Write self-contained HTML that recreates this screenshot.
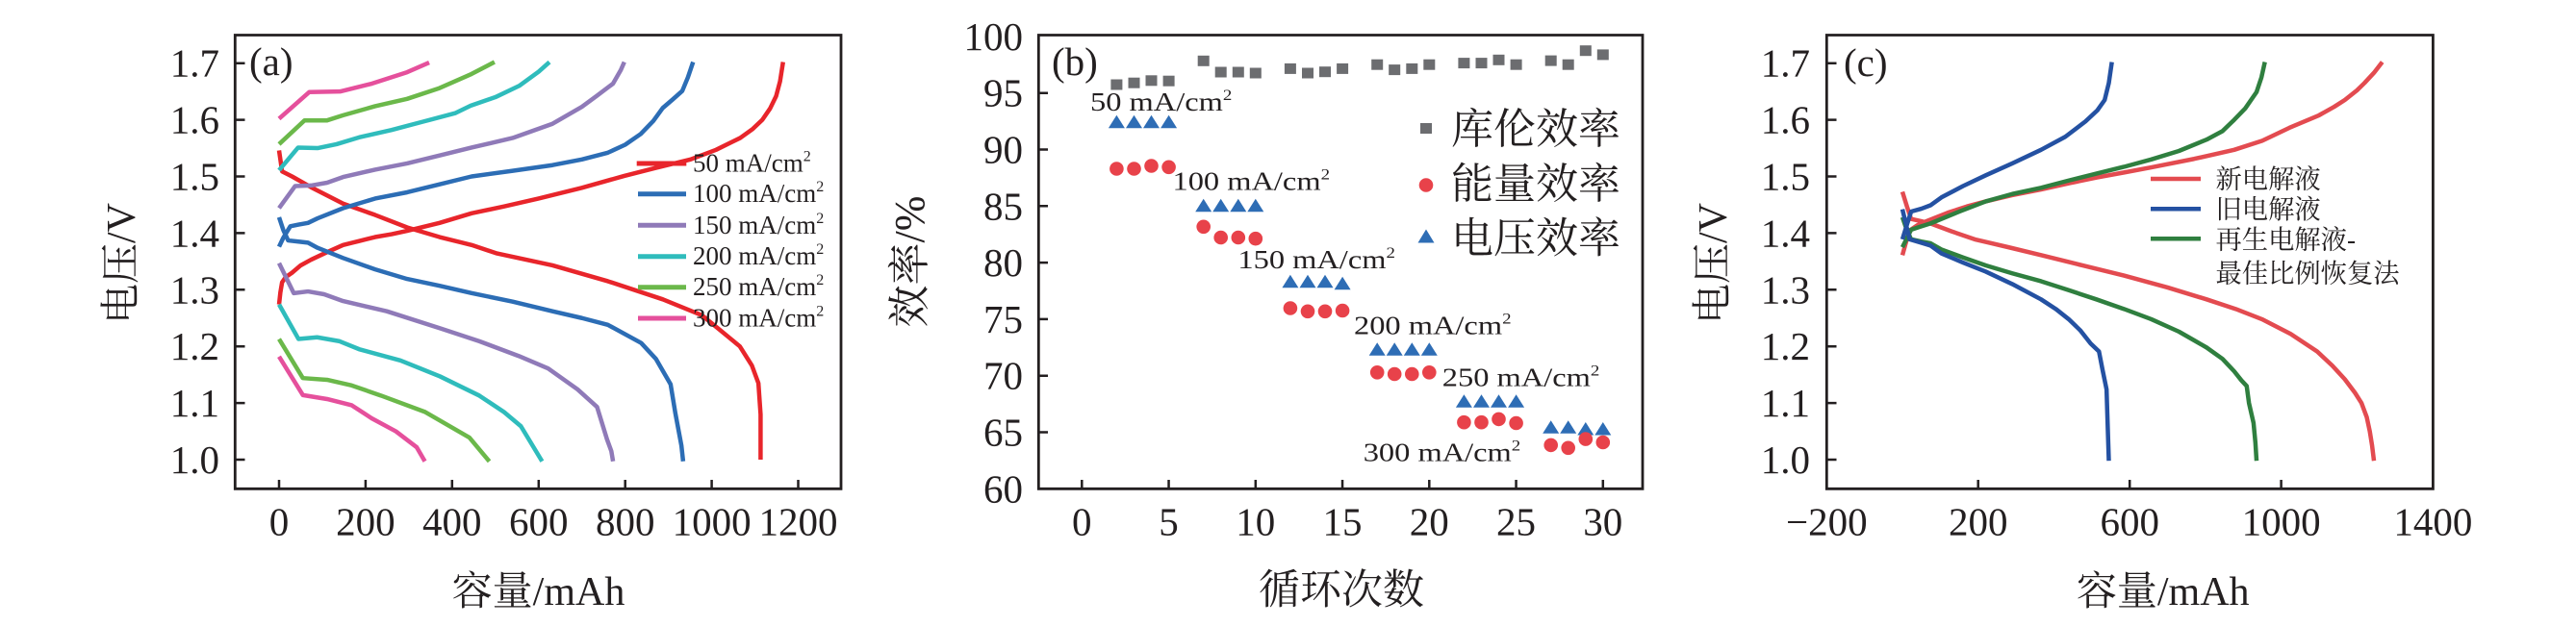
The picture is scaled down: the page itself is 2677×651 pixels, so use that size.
<!DOCTYPE html>
<html>
<head>
<meta charset="utf-8">
<style>
html,body{margin:0;padding:0;background:#fff;}
svg{display:block;}
text{font-family:"Liberation Serif","Noto Serif CJK SC",serif;fill:#231f20;}
.ln{fill:none;stroke-width:4.5;stroke-linejoin:round;stroke-linecap:butt;}
</style>
</head>
<body>
<svg width="2677" height="651" viewBox="0 0 2677 651" xmlns="http://www.w3.org/2000/svg">
<rect x="0" y="0" width="2677" height="651" fill="#fff"/>

<!-- ================= PANEL A ================= -->
<g transform="matrix(0.4496,0,0,-0.589,290,1067)">
  <polyline class="ln" vector-effect="non-scaling-stroke" stroke="#e8252b" points="0,1274 3,1295 7,1313 15,1322 30,1330 50,1343 74,1353 110,1366 148,1379 185,1386 222,1393 260,1398 296,1404 371,1418 445,1435 520,1447 600,1461 700,1480 798,1501 870,1515 951,1530 1010,1547 1066,1568 1095,1584 1117,1600 1135,1620 1149,1642 1158,1668 1165,1702"/>
  <polyline class="ln" vector-effect="non-scaling-stroke" stroke="#e8252b" points="0,1546 7,1509 30,1500 74,1481 148,1452 222,1432 296,1410 371,1393 445,1379 504,1364 632,1343 760,1315 887,1283 977,1255 1019,1229 1065,1200 1093,1166 1108,1135 1113,1080 1113,1000"/>
  <polyline class="ln" vector-effect="non-scaling-stroke" stroke="#2c6db5" points="0,1376 10,1392 26,1412 45,1415 67,1418 89,1426 148,1444 222,1461 296,1472 371,1486 445,1500 540,1510 632,1520 700,1530 760,1542 800,1556 836,1575 865,1598 887,1621 910,1636 932,1651 945,1675 957,1702"/>
  <polyline class="ln" vector-effect="non-scaling-stroke" stroke="#2c6db5" points="0,1428 10,1405 21,1387 45,1385 67,1383 89,1374 148,1356 222,1336 296,1319 371,1307 445,1294 540,1279 632,1262 700,1250 760,1238 837,1206 871,1178 905,1133 916,1082 930,1025 934,997"/>
  <polyline class="ln" vector-effect="non-scaling-stroke" stroke="#8f7ab8" points="0,1444 37,1483 74,1484 111,1489 148,1499 222,1512 296,1523 371,1537 445,1551 540,1568 632,1593 700,1623 734,1642 772,1664 790,1688 798,1702"/>
  <polyline class="ln" vector-effect="non-scaling-stroke" stroke="#8f7ab8" points="0,1347 34,1294 67,1297 104,1292 148,1280 249,1262 372,1232 463,1209 554,1183 622,1161 690,1124 735,1093 758,1036 768,1015 772,997"/>
  <polyline class="ln" vector-effect="non-scaling-stroke" stroke="#2fbcbc" points="0,1511 44,1551 89,1550 133,1557 185,1569 260,1582 334,1597 408,1612 443,1625 500,1640 555,1660 600,1685 625,1702"/>
  <polyline class="ln" vector-effect="non-scaling-stroke" stroke="#2fbcbc" points="0,1274 45,1213 88,1216 140,1209 185,1195 281,1175 372,1147 463,1113 520,1084 559,1059 608,997"/>
  <polyline class="ln" vector-effect="non-scaling-stroke" stroke="#6bb84a" points="0,1557 59,1599 111,1599 148,1608 222,1624 296,1637 371,1656 445,1681 498,1702"/>
  <polyline class="ln" vector-effect="non-scaling-stroke" stroke="#6bb84a" points="0,1213 55,1144 111,1141 168,1131 236,1113 338,1084 440,1039 486,997"/>
  <polyline class="ln" vector-effect="non-scaling-stroke" stroke="#e5509c" points="0,1602 70,1649 141,1650 215,1664 296,1684 347,1701"/>
  <polyline class="ln" vector-effect="non-scaling-stroke" stroke="#e5509c" points="0,1182 55,1114 111,1107 168,1096 214,1073 270,1050 318,1022 337,997"/>
</g>
<path d="M244.3,36.5 H874 V508.3 H244.3 Z" fill="none" stroke="#231f20" stroke-width="2.8"/>
<g stroke="#231f20" stroke-width="2.5">
  <path d="M290,508.3V499 M379.9,508.3V499 M469.8,508.3V499 M559.8,508.3V499 M649.7,508.3V499 M739.6,508.3V499 M829.5,508.3V499"/>
  <path d="M244.3,478H254.5 M244.3,419.1H254.5 M244.3,360.2H254.5 M244.3,301.3H254.5 M244.3,242.4H254.5 M244.3,183.5H254.5 M244.3,124.6H254.5 M244.3,65.7H254.5"/>
</g>
<g font-size="41" text-anchor="end">
  <text x="228" y="492">1.0</text>
  <text x="228" y="433.1">1.1</text>
  <text x="228" y="374.2">1.2</text>
  <text x="228" y="315.3">1.3</text>
  <text x="228" y="256.4">1.4</text>
  <text x="228" y="197.5">1.5</text>
  <text x="228" y="138.6">1.6</text>
  <text x="228" y="79.7">1.7</text>
</g>
<g font-size="41" text-anchor="middle">
  <text x="290" y="556.5">0</text>
  <text x="379.9" y="556.5">200</text>
  <text x="469.8" y="556.5">400</text>
  <text x="559.8" y="556.5">600</text>
  <text x="649.7" y="556.5">800</text>
  <text x="739.6" y="556.5">1000</text>
  <text x="829.5" y="556.5">1200</text>
</g>
<text x="259" y="78" font-size="41">(a)</text>
<text transform="translate(140,274) rotate(-90)" text-anchor="middle" font-size="42">电压/V</text>
<text x="559.5" y="629" text-anchor="middle" font-size="42">容量/mAh</text>
<g stroke-width="5">
  <line x1="661.7" y1="170" x2="713.3" y2="170" stroke="#e8252b"/>
  <line x1="663" y1="201.7" x2="713" y2="201.7" stroke="#2c6db5"/>
  <line x1="663" y1="234.3" x2="713" y2="234.3" stroke="#8f7ab8"/>
  <line x1="663" y1="266.7" x2="713" y2="266.7" stroke="#2fbcbc"/>
  <line x1="663" y1="298.7" x2="713" y2="298.7" stroke="#6bb84a"/>
  <line x1="663" y1="331" x2="713" y2="331" stroke="#e5509c"/>
</g>
<g font-size="27">
  <text x="720" y="178.5">50 mA/cm<tspan font-size="16" dy="-11">2</tspan></text>
  <text x="720" y="210.2">100 mA/cm<tspan font-size="16" dy="-11">2</tspan></text>
  <text x="720" y="242.8">150 mA/cm<tspan font-size="16" dy="-11">2</tspan></text>
  <text x="720" y="275.2">200 mA/cm<tspan font-size="16" dy="-11">2</tspan></text>
  <text x="720" y="307.2">250 mA/cm<tspan font-size="16" dy="-11">2</tspan></text>
  <text x="720" y="339.5">300 mA/cm<tspan font-size="16" dy="-11">2</tspan></text>
</g>

<!-- ================= PANEL B ================= -->
<path d="M1079.3,36.5 H1707 V508.3 H1079.3 Z" fill="none" stroke="#231f20" stroke-width="2.8"/>
<g stroke="#231f20" stroke-width="2.5">
  <path d="M1124.3,508.3V499 M1214.55,508.3V499 M1304.8,508.3V499 M1395.05,508.3V499 M1485.3,508.3V499 M1575.55,508.3V499 M1665.8,508.3V499"/>
  <path d="M1079.3,449.5H1089 M1079.3,390.7H1089 M1079.3,331.9H1089 M1079.3,273.1H1089 M1079.3,214.3H1089 M1079.3,155.5H1089 M1079.3,96.7H1089"/>
</g>
<g font-size="41" text-anchor="end">
  <text x="1063" y="522.3">60</text>
  <text x="1063" y="463.5">65</text>
  <text x="1063" y="404.7">70</text>
  <text x="1063" y="345.9">75</text>
  <text x="1063" y="287.1">80</text>
  <text x="1063" y="228.3">85</text>
  <text x="1063" y="169.5">90</text>
  <text x="1063" y="110.7">95</text>
  <text x="1063" y="51.9">100</text>
</g>
<g font-size="41" text-anchor="middle">
  <text x="1124.3" y="556.5">0</text>
  <text x="1214.55" y="556.5">5</text>
  <text x="1304.8" y="556.5">10</text>
  <text x="1395.05" y="556.5">15</text>
  <text x="1485.3" y="556.5">20</text>
  <text x="1575.55" y="556.5">25</text>
  <text x="1665.8" y="556.5">30</text>
</g>
<text x="1093" y="78" font-size="41">(b)</text>
<text transform="translate(960,272) rotate(-90)" text-anchor="middle" font-size="44">效率/%</text>
<text x="1394" y="628" text-anchor="middle" font-size="43">循环次数</text>

<g fill="#6c6d70">
  <rect x="1154.4" y="82.5" width="12" height="11"/>
  <rect x="1172.5" y="80.7" width="12" height="11"/>
  <rect x="1190.5" y="78.3" width="12" height="11"/>
  <rect x="1208.6" y="78.7" width="12" height="11"/>
  <rect x="1244.7" y="57.8" width="12" height="11"/>
  <rect x="1262.7" y="69.5" width="12" height="11"/>
  <rect x="1280.8" y="69.5" width="12" height="11"/>
  <rect x="1298.8" y="70.5" width="12" height="11"/>
  <rect x="1334.9" y="65.9" width="12" height="11"/>
  <rect x="1353.0" y="70.5" width="12" height="11"/>
  <rect x="1371.0" y="69.2" width="12" height="11"/>
  <rect x="1389.1" y="65.9" width="12" height="11"/>
  <rect x="1425.2" y="61.7" width="12" height="11"/>
  <rect x="1443.2" y="67.1" width="12" height="11"/>
  <rect x="1461.3" y="65.9" width="12" height="11"/>
  <rect x="1479.3" y="61.7" width="12" height="11"/>
  <rect x="1515.4" y="60.1" width="12" height="11"/>
  <rect x="1533.5" y="60.1" width="12" height="11"/>
  <rect x="1551.5" y="56.8" width="12" height="11"/>
  <rect x="1569.6" y="61.7" width="12" height="11"/>
  <rect x="1605.7" y="57.6" width="12" height="11"/>
  <rect x="1623.7" y="61.7" width="12" height="11"/>
  <rect x="1641.8" y="47.2" width="12" height="11"/>
  <rect x="1659.8" y="51.4" width="12" height="11"/>
</g>
<g fill="#2e6db5">
  <path d="M1160.4,119.7 l8.5,13.5 h-17 z M1178.5,119.7 l8.5,13.5 h-17 z M1196.5,119.7 l8.5,13.5 h-17 z M1214.6,119.7 l8.5,13.5 h-17 z"/>
  <path d="M1250.7,206.8 l8.5,13.5 h-17 z M1268.7,206.8 l8.5,13.5 h-17 z M1286.8,206.8 l8.5,13.5 h-17 z M1304.8,206.8 l8.5,13.5 h-17 z"/>
  <path d="M1340.9,285.7 l8.5,13.5 h-17 z M1359.0,285.7 l8.5,13.5 h-17 z M1377.0,285.7 l8.5,13.5 h-17 z M1395.1,287.7 l8.5,13.5 h-17 z"/>
  <path d="M1431.2,356.2 l8.5,13.5 h-17 z M1449.2,356.2 l8.5,13.5 h-17 z M1467.3,356.2 l8.5,13.5 h-17 z M1485.3,356.2 l8.5,13.5 h-17 z"/>
  <path d="M1521.4,410.2 l8.5,13.5 h-17 z M1539.5,410.2 l8.5,13.5 h-17 z M1557.5,410.2 l8.5,13.5 h-17 z M1575.6,410.2 l8.5,13.5 h-17 z"/>
  <path d="M1611.7,437.2 l8.5,13.5 h-17 z M1629.7,437.2 l8.5,13.5 h-17 z M1647.8,439 l8.5,13.5 h-17 z M1665.8,439 l8.5,13.5 h-17 z"/>
</g>
<g fill="#e8424a">
  <circle cx="1160.4" cy="175.5" r="7.3"/>
  <circle cx="1178.5" cy="175.5" r="7.3"/>
  <circle cx="1196.5" cy="172.5" r="7.3"/>
  <circle cx="1214.6" cy="173.8" r="7.3"/>
  <circle cx="1250.7" cy="235.8" r="7.3"/>
  <circle cx="1268.7" cy="247" r="7.3"/>
  <circle cx="1286.8" cy="247" r="7.3"/>
  <circle cx="1304.8" cy="248.2" r="7.3"/>
  <circle cx="1340.9" cy="320.5" r="7.3"/>
  <circle cx="1359.0" cy="323.8" r="7.3"/>
  <circle cx="1377.0" cy="323.8" r="7.3"/>
  <circle cx="1395.1" cy="323" r="7.3"/>
  <circle cx="1431.2" cy="387.3" r="7.3"/>
  <circle cx="1449.2" cy="389" r="7.3"/>
  <circle cx="1467.3" cy="389" r="7.3"/>
  <circle cx="1485.3" cy="387.3" r="7.3"/>
  <circle cx="1521.4" cy="439.2" r="7.3"/>
  <circle cx="1539.5" cy="439.2" r="7.3"/>
  <circle cx="1557.5" cy="435.9" r="7.3"/>
  <circle cx="1575.6" cy="440" r="7.3"/>
  <circle cx="1611.7" cy="462.9" r="7.3"/>
  <circle cx="1629.7" cy="465.8" r="7.3"/>
  <circle cx="1647.8" cy="456.6" r="7.3"/>
  <circle cx="1665.8" cy="460" r="7.3"/>
</g>
<g font-size="27.5">
  <text transform="translate(1133,115) scale(1.18,1)">50 mA/cm<tspan font-size="16" dy="-11">2</tspan></text>
  <text transform="translate(1218.5,197.5) scale(1.18,1)">100 mA/cm<tspan font-size="16" dy="-11">2</tspan></text>
  <text transform="translate(1286.4,279) scale(1.18,1)">150 mA/cm<tspan font-size="16" dy="-11">2</tspan></text>
  <text transform="translate(1407,347.3) scale(1.18,1)">200 mA/cm<tspan font-size="16" dy="-11">2</tspan></text>
  <text transform="translate(1498.8,401.3) scale(1.18,1)">250 mA/cm<tspan font-size="16" dy="-11">2</tspan></text>
  <text transform="translate(1416.7,479.3) scale(1.18,1)">300 mA/cm<tspan font-size="16" dy="-11">2</tspan></text>
</g>
<rect x="1476" y="128" width="12" height="11" fill="#6c6d70"/>
<circle cx="1482" cy="192.5" r="7.3" fill="#e8424a"/>
<path d="M1482,238.5 l8.5,14 h-17 z" fill="#2e6db5"/>
<g font-size="44">
  <text x="1508" y="149">库伦效率</text>
  <text x="1508" y="206">能量效率</text>
  <text x="1508" y="262.5">电压效率</text>
</g>

<!-- ================= PANEL C ================= -->
<g transform="matrix(0.3936,0,0,-0.589,1977,1067)">
  <polyline class="ln" vector-effect="non-scaling-stroke" stroke="#e34b50" points="0,1473 12,1447 23,1425 50,1421 74,1417 130,1403 191,1389 280,1375 366,1361 475,1343 585,1325 700,1304 803,1283 880,1266 949,1248 1025,1222 1095,1191 1135,1166 1168,1142 1195,1118 1212,1100 1226,1075 1234,1050 1240,1025 1245,998"/>
  <polyline class="ln" vector-effect="non-scaling-stroke" stroke="#e34b50" points="0,1361 10,1385 20,1405 40,1414 60,1420 120,1436 170,1447 220,1456 290,1467 366,1477 440,1488 512,1498 585,1507 657,1516 770,1531 876,1547 950,1563 1022,1586 1100,1608 1140,1623 1168,1635 1200,1652 1220,1665 1245,1683 1267,1702"/>
  <polyline class="ln" vector-effect="non-scaling-stroke" stroke="#2f7f3f" points="0,1375 23,1406 50,1412 74,1417 150,1438 220,1456 290,1469 366,1480 440,1493 512,1505 585,1517 657,1530 730,1545 803,1565 845,1580 876,1600 905,1620 935,1649 948,1675 957,1702"/>
  <polyline class="ln" vector-effect="non-scaling-stroke" stroke="#2f7f3f" points="0,1428 12,1405 23,1389 50,1385 74,1382 103,1371 160,1357 220,1343 290,1329 366,1315 440,1299 512,1283 585,1266 657,1248 730,1226 803,1198 845,1178 876,1156 895,1140 909,1130 915,1100 927,1065 932,1030 935,998"/>
  <polyline class="ln" vector-effect="non-scaling-stroke" stroke="#2451a2" points="0,1389 12,1415 23,1438 50,1443 74,1449 103,1463 160,1483 220,1502 290,1523 366,1547 430,1570 483,1597 515,1617 534,1635 545,1665 553,1702"/>
  <polyline class="ln" vector-effect="non-scaling-stroke" stroke="#2451a2" points="0,1442 10,1414 19,1389 50,1383 74,1378 103,1364 160,1348 220,1332 290,1310 366,1283 405,1266 439,1248 470,1228 497,1205 519,1191 528,1160 539,1124 542,1060 545,998"/>
</g>
<path d="M1898.3,36.5 H2528.4 V508.3 H1898.3 Z" fill="none" stroke="#231f20" stroke-width="2.8"/>
<g stroke="#231f20" stroke-width="2.5">
  <path d="M2055.7,508.3V499 M2213.2,508.3V499 M2370.6,508.3V499"/>
  <path d="M1898.3,478H1908.5 M1898.3,419.1H1908.5 M1898.3,360.2H1908.5 M1898.3,301.3H1908.5 M1898.3,242.4H1908.5 M1898.3,183.5H1908.5 M1898.3,124.6H1908.5 M1898.3,65.7H1908.5"/>
</g>
<g font-size="41" text-anchor="end">
  <text x="1881" y="492">1.0</text>
  <text x="1881" y="433.1">1.1</text>
  <text x="1881" y="374.2">1.2</text>
  <text x="1881" y="315.3">1.3</text>
  <text x="1881" y="256.4">1.4</text>
  <text x="1881" y="197.5">1.5</text>
  <text x="1881" y="138.6">1.6</text>
  <text x="1881" y="79.7">1.7</text>
</g>
<g font-size="41" text-anchor="middle">
  <text x="1898.3" y="556.5">−200</text>
  <text x="2055.7" y="556.5">200</text>
  <text x="2213.2" y="556.5">600</text>
  <text x="2370.6" y="556.5">1000</text>
  <text x="2528.4" y="556.5">1400</text>
</g>
<text x="1916" y="79" font-size="41">(c)</text>
<text transform="translate(1794,274) rotate(-90)" text-anchor="middle" font-size="42">电压/V</text>
<text x="2247.7" y="629" text-anchor="middle" font-size="42">容量/mAh</text>
<g stroke-width="4.5">
  <line x1="2235" y1="186" x2="2287" y2="186" stroke="#e34b50"/>
  <line x1="2235" y1="217.3" x2="2287" y2="217.3" stroke="#2451a2"/>
  <line x1="2235" y1="248.3" x2="2287" y2="248.3" stroke="#2f7f3f"/>
</g>
<g font-size="27.3">
  <text x="2302.5" y="195.5">新电解液</text>
  <text x="2302.5" y="227">旧电解液</text>
  <text x="2302.5" y="258.6">再生电解液-</text>
  <text x="2302.5" y="293.6">最佳比例恢复法</text>
</g>
</svg>
</body>
</html>
